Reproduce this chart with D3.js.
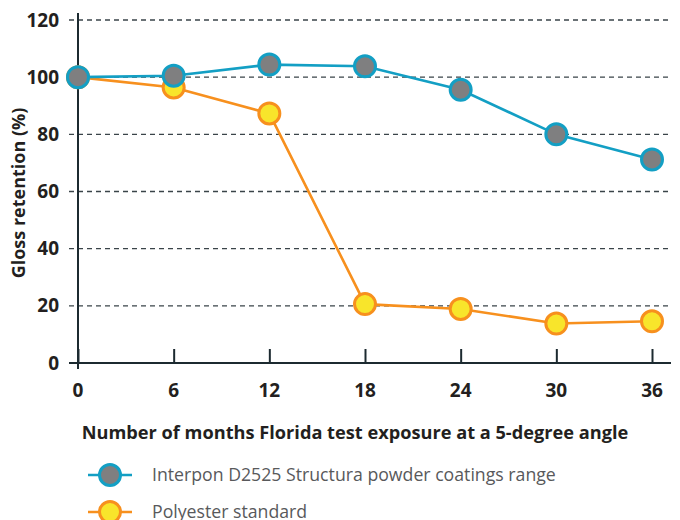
<!DOCTYPE html>
<html>
<head>
<meta charset="utf-8">
<title>Gloss retention</title>
<script src="https://d3js.org/d3.v7.min.js"></script>
<style>
  body { margin: 0; background: #fff; }
  text { font-family: "Open Sans", "Noto Sans", sans-serif; }
</style>
</head>
<body>
<script>
// data
var months = [0, 6, 12, 18, 24, 30, 36];
var interpon = [100, 100.5, 104.4, 103.8, 95.6, 80, 71.2];
var polyester = [100, 96.4, 87.3, 20.6, 18.9, 13.8, 14.6];
var yTicks = [0, 20, 40, 60, 80, 100, 120];
var seriesNames = ["Interpon D2525 Structura powder coatings range", "Polyester standard"];

var width = 680, height = 520;
var blue = "#139fc4", gray = "#7f7f80";
var orange = "#f7901e", yellow = "#f8e52b";

var svg = d3.select("body").append("svg")
    .attr("width", width)
    .attr("height", height);

var x = d3.scaleLinear().domain([0, 36]).range([78, 652]);
var y = d3.scaleLinear().domain([0, 120]).range([363, 20]);

// dashed gridlines
svg.append("g")
    .selectAll("line")
    .data(yTicks.filter(function(d) { return d > 0; }))
    .enter().append("line")
    .attr("x1", 69).attr("x2", 671)
    .attr("y1", function(d) { return y(d); })
    .attr("y2", function(d) { return y(d); })
    .attr("stroke", "#3a4449")
    .attr("stroke-width", 1.3)
    .attr("stroke-dasharray", "5,4");

// y axis line
svg.append("line")
    .attr("x1", x(0)).attr("x2", x(0))
    .attr("y1", 13).attr("y2", 369)
    .attr("stroke", "#1c2a30").attr("stroke-width", 2);

// x axis
var xAxis = d3.axisTop(x).tickValues(months).tickSize(14).tickFormat("");
var gx = svg.append("g").attr("transform", "translate(0," + y(0) + ")").call(xAxis);
gx.select(".domain").remove();
gx.selectAll(".tick line").attr("stroke", "#1c2a30").attr("stroke-width", 2);
svg.append("line")
    .attr("x1", 69).attr("x2", 671)
    .attr("y1", y(0)).attr("y2", y(0))
    .attr("stroke", "#1c2a30").attr("stroke-width", 2);

// x tick labels
svg.append("g")
    .selectAll("text")
    .data(months)
    .enter().append("text")
    .attr("x", function(d) { return x(d); })
    .attr("y", 397)
    .attr("text-anchor", "middle")
    .attr("font-size", 19)
    .attr("font-weight", "bold")
    .attr("fill", "#231f20")
    .text(function(d) { return d; });

// y tick labels
svg.append("g")
    .selectAll("text")
    .data(yTicks)
    .enter().append("text")
    .attr("x", 59)
    .attr("y", function(d) { return y(d); })
    .attr("dy", "0.35em")
    .attr("text-anchor", "end")
    .attr("font-size", 19)
    .attr("font-weight", "bold")
    .attr("fill", "#231f20")
    .text(function(d) { return d; });

// axis titles
svg.append("text")
    .attr("x", 355).attr("y", 439)
    .attr("text-anchor", "middle")
    .attr("font-size", 18.2)
    .attr("font-weight", "bold")
    .attr("fill", "#231f20")
    .text("Number of months Florida test exposure at a 5-degree angle");

svg.append("text")
    .attr("transform", "translate(25,193) rotate(-90)")
    .attr("text-anchor", "middle")
    .attr("font-size", 18)
    .attr("font-weight", "bold")
    .attr("fill", "#231f20")
    .text("Gloss retention (%)");

var line = d3.line()
    .x(function(d, i) { return x(months[i]); })
    .y(function(d) { return y(d); });

function drawSeries(vals, stroke, fill) {
    svg.append("path")
        .datum(vals)
        .attr("d", line)
        .attr("fill", "none")
        .attr("stroke", stroke)
        .attr("stroke-width", 2.6);
    svg.append("g")
        .selectAll("circle")
        .data(vals)
        .enter().append("circle")
        .attr("cx", function(d, i) { return x(months[i]); })
        .attr("cy", function(d) { return y(d); })
        .attr("r", 10.5)
        .attr("fill", fill)
        .attr("stroke", stroke)
        .attr("stroke-width", 3);
}

drawSeries(polyester, orange, yellow);
drawSeries(interpon, blue, gray);

// legend
var legend = svg.append("g")
    .selectAll("g")
    .data(seriesNames)
    .enter().append("g")
    .attr("transform", function(d, i) { return "translate(0," + (475 + i * 37) + ")"; });

legend.append("line")
    .attr("x1", 88).attr("x2", 132)
    .attr("stroke", function(d, i) { return i === 0 ? blue : orange; })
    .attr("stroke-width", 2.6);
legend.append("circle")
    .attr("cx", 110).attr("r", 10.5)
    .attr("fill", function(d, i) { return i === 0 ? gray : yellow; })
    .attr("stroke", function(d, i) { return i === 0 ? blue : orange; })
    .attr("stroke-width", 3);
legend.append("text")
    .attr("x", 152)
    .attr("dy", "0.35em")
    .attr("font-size", 17.7)
    .attr("fill", "#58595b")
    .text(function(d) { return d; });
</script>
</body>
</html>
